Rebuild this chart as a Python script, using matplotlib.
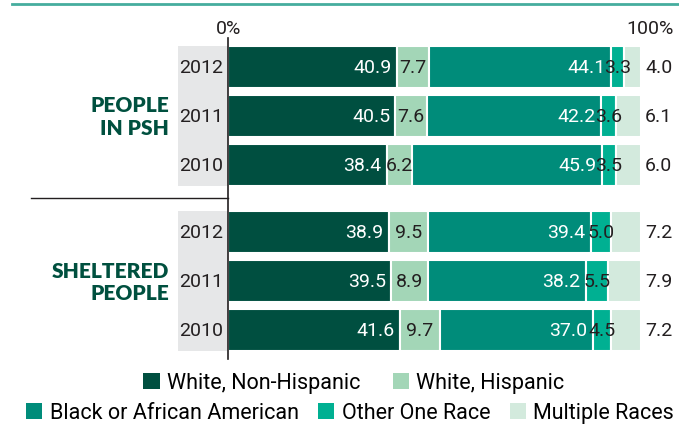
import matplotlib
matplotlib.use("Agg")
import matplotlib.pyplot as plt
from matplotlib.patches import Rectangle, Patch
from matplotlib.lines import Line2D
import numpy as np

plt.rcParams['font.family'] = ['Roboto', 'DejaVu Sans']

years = ["2012", "2011", "2010", "2012", "2011", "2010"]
groups = ["PEOPLE\nIN PSH", "SHELTERED\nPEOPLE"]
series_names = ["White, Non-Hispanic", "White, Hispanic", "Black or African American",
                "Other One Race", "Multiple Races"]
white_nonhisp = [40.9, 40.5, 38.4, 38.9, 39.5, 41.6]
white_hisp = [7.7, 7.6, 6.2, 9.5, 8.9, 9.7]
black = [44.1, 42.2, 45.9, 39.4, 38.2, 37.0]
other_one = [3.3, 3.6, 3.5, 5.0, 5.5, 4.5]
multiple = [4.0, 6.1, 6.0, 7.2, 7.9, 7.2]
tick_labels = ["0%", "100%"]

colors = ["#004f40", "#a3d6b7", "#008c7a", "#00b092", "#d3eadd"]
label_colors = ["white", "#231f20", "white", "#231f20", "#231f20"]

W, H = 679, 427
fig = plt.figure(figsize=(W / 100, H / 100), dpi=100)
ax = fig.add_axes([228 / W, 1 - 360 / H, 413 / W, (360 - 39) / H])

ypos = np.array([0, 1, 2, 3.37, 4.37, 5.37])
bar_h = 0.86
series = [white_nonhisp, white_hisp, black, other_one, multiple]
fs = 14

left = np.zeros(len(years))
for k, vals in enumerate(series):
    vals = np.array(vals)
    ax.barh(ypos, vals, left=left, height=bar_h, color=colors[k],
            edgecolor="white", linewidth=1.5)
    for i, v in enumerate(vals):
        if k in (0, 2):
            ax.text(left[i] + v - 1.2, ypos[i], f"{v:.1f}", ha="right", va="center",
                    color=label_colors[k], fontsize=fs)
        elif k in (1, 3):
            ax.text(left[i] + v / 2, ypos[i], f"{v:.1f}", ha="center", va="center",
                    color=label_colors[k], fontsize=fs)
        else:
            ax.text(101, ypos[i], f"{v:.1f}", ha="left", va="center",
                    color="#231f20", fontsize=fs)
    left += vals

ax.set_xlim(0, 100)
ax.set_ylim((360 - 68) / 49, (39 - 68) / 49)
for s in ["top", "right", "bottom"]:
    ax.spines[s].set_visible(False)
ax.spines["left"].set_color("#231f20")
ax.spines["left"].set_linewidth(1.2)
ax.set_xticks([])
ax.set_yticks([])

# grey year boxes
for y0 in (0, 3.37):
    ax.add_patch(Rectangle((-12.1, y0 - 0.43), 12.1, 2.86, facecolor="#e6e7e8",
                           edgecolor="none", clip_on=False, zorder=0))
for i, y in enumerate(ypos):
    ax.text(-1.2, y, years[i], ha="right", va="center", fontsize=fs, color="#231f20")

# group labels
for g, yc in zip(groups, (1.0, 4.37)):
    ax.text(-14.3, yc, g, ha="right", va="center", fontsize=15, color="#00503f",
            fontweight="heavy", family=["Lato", "DejaVu Sans"], linespacing=1.2)

# divider
ax.plot([-47.7, 0], [2.67, 2.67], color="#231f20", lw=1.0, clip_on=False)

# tick labels
fig.text(229 / W, 1 - 34 / H, tick_labels[0], ha="center", va="baseline", fontsize=fs,
         color="#231f20")
fig.text(674 / W, 1 - 34 / H, tick_labels[1], ha="right", va="baseline", fontsize=fs,
         color="#231f20")

# top line
fig.add_artist(Line2D([12 / W, 1], [1 - 4.5 / H, 1 - 4.5 / H], color="#45ad9e", lw=2))

# legends
h1 = [Patch(facecolor=colors[k], edgecolor="none") for k in range(2)]
h2 = [Patch(facecolor=colors[k], edgecolor="none") for k in range(2, 5)]
common = dict(frameon=False, fontsize=15.5, handlelength=0.75, handleheight=0.75,
              handletextpad=0.35, borderaxespad=0, borderpad=0)
leg1 = fig.legend(h1, series_names[:2], loc="center", bbox_to_anchor=(354 / W, 1 - 384 / H),
                  ncol=2, columnspacing=1.5, **common)
leg2 = fig.legend(h2, series_names[2:], loc="center", bbox_to_anchor=(350 / W, 1 - 414 / H),
                  ncol=3, columnspacing=0.9, **common)

fig.savefig("out.png", dpi=100)
